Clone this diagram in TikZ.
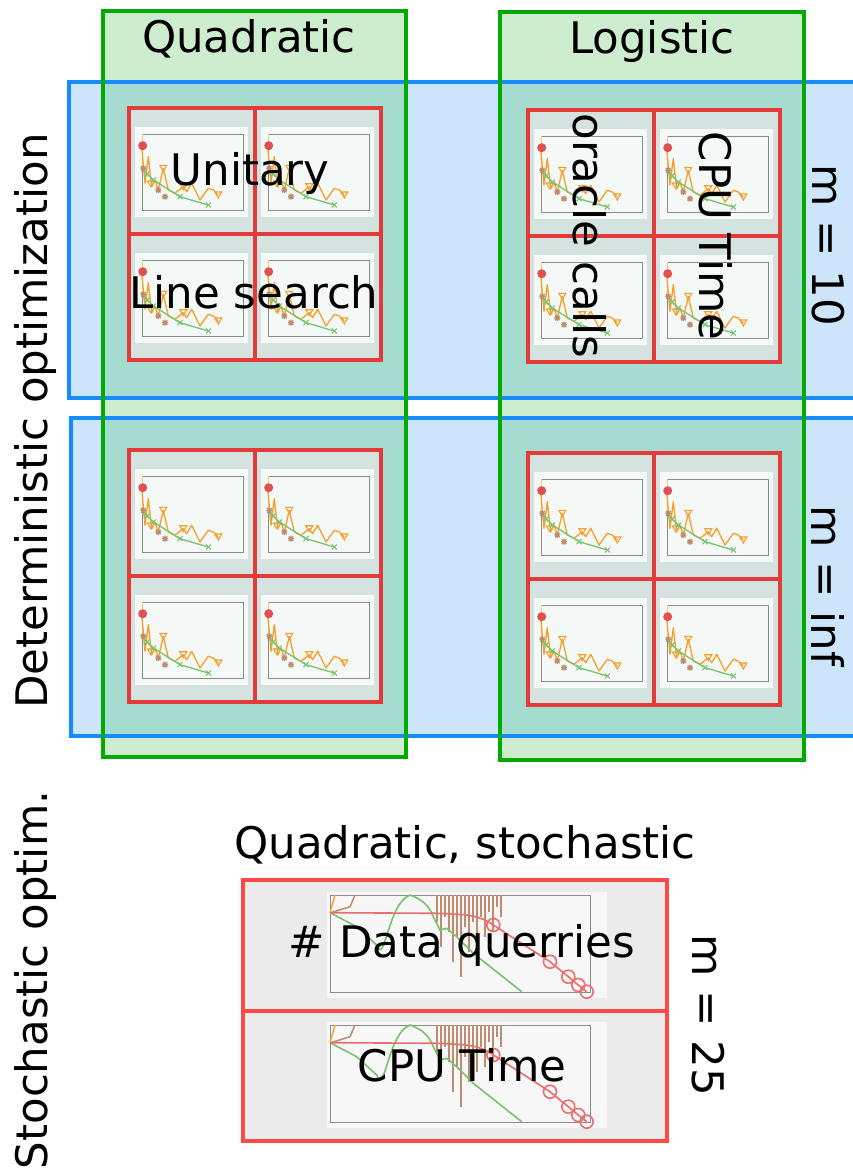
\documentclass[tikz,border=0pt]{standalone}
\usepackage{fontspec}
\setmainfont{DejaVu Sans}
\definecolor{grnline}{RGB}{0,170,0}
\definecolor{grnfill}{RGB}{206,237,207}
\definecolor{blueline}{RGB}{20,140,255}
\definecolor{bluefill}{RGB}{205,229,250}
\definecolor{teal}{RGB}{166,220,207}
\definecolor{redgrid}{RGB}{228,58,58}
\definecolor{redsto}{RGB}{255,72,72}
\definecolor{cellgray}{RGB}{213,227,224}
\definecolor{thumbbg}{RGB}{244,248,247}
\definecolor{axgray}{RGB}{140,140,140}
\definecolor{orgc}{RGB}{245,160,40}
\definecolor{lgrn}{RGB}{120,195,110}
\definecolor{redc}{RGB}{225,80,80}
\definecolor{brn}{RGB}{190,140,110}
\definecolor{yelc}{RGB}{230,210,120}
\definecolor{stogray}{RGB}{235,235,235}
\definecolor{stobg}{RGB}{247,247,247}
\definecolor{redcurve}{RGB}{235,110,110}
\tikzset{
  lbl/.style={font=\fontsize{43.5}{50}\selectfont, inner sep=0pt, text=black},
  greenbox/.style={draw=grnline, line width=3.5pt},
  bluebox/.style={draw=blueline, line width=3.5pt},
  redline/.style={draw=redgrid, line width=3.8pt},
  stoline/.style={draw=redsto, line width=3.5pt},
}
\newcommand\tri[2]{\draw[orgc,line width=1.1pt] (#1,#2) ++(-3.5,-3) -- ++(7,0) -- ++(-3.5,6) -- cycle;}
\newcommand\xmk[2]{\draw[lgrn,line width=1.1pt] (#1,#2) ++(-2.5,-2.5) -- ++(5,5) ++(-5,0) -- ++(5,-5);}
\newcommand\stmk[2]{\draw[brn,line width=1.2pt] (#1,#2) ++(-3,0) -- ++(6,0) ++(-3,-3) -- ++(0,6) ++(-2.3,-0.7) -- ++(4.6,-4.6) ++(0,4.6) -- ++(-4.6,-4.6);}
\newcommand\dthumb[2]{%
\begin{scope}[shift={(#1,#2)}]
\fill[thumbbg] (6,19) rectangle (119,109);
\draw[axgray,line width=0.7pt] (13,26) rectangle (114,102);
\draw[yelc,line width=1pt] (13,26) -- (13,62);
\draw[orgc,line width=1.3pt,line join=round] (12.7,38.7) -- (16,75.3) -- (19.3,48.7) -- (22.7,78.7) -- (26,72) -- (29.3,82) -- (34.3,60.3) -- (39.3,82) -- (46,85.3) -- (54.3,78.7) -- (57.7,83.7) -- (62.7,75.3) -- (71,92) -- (79.3,80.3) -- (84.3,82) -- (89.3,87);
\tri{34.3}{60.3}\tri{54.3}{78.7}\tri{89.3}{87}\tri{22}{76}
\draw[lgrn,line width=1.3pt] (14.3,62) -- (24.3,72) -- (51,88.7) -- (79.3,97);
\xmk{24.3}{72}\xmk{51}{88.7}\xmk{79.3}{97}\xmk{18}{66}
\fill[redc] (13.7,37.7) circle (4.5);
\stmk{14.3}{60.3}\stmk{29.3}{82}\stmk{36}{88.7}
\end{scope}}
\newcommand\sthumb[2]{%
\begin{scope}[shift={(#1,#2)}]
\fill[stobg] (0,0) rectangle (280,106);
\draw[axgray,line width=0.7pt] (3,3) rectangle (263,100);
\draw[orgc,line width=1.4pt] (3,20.7) -- (8,3);
\draw[brn,line width=1.5pt] (3.7,20.7) -- (23,14.7) -- (28,3);
\draw[brn,line width=1.5pt] (110,3) -- (110,30) (114,3) -- (114,55) (118,3) -- (118,25) (122,3) -- (122,40) (126,3) -- (126,70) (130,3) -- (130,45) (134,3) -- (134,85) (138,3) -- (138,35) (142,3) -- (142,60) (146,3) -- (146,30) (150,3) -- (150,50) (154,3) -- (154,25) (158,3) -- (158,45) (162,3) -- (162,20) (166,3) -- (166,40) (170,3) -- (170,15) (174,3) -- (174,25);
\draw[lgrn,line width=1.6pt] (3,20.7) -- (29.7,34.7) -- (49.7,53) to[out=-70,in=200] (83,3) to[out=-20,in=110] (106.3,24.7) -- (113,38) -- (119.7,36.3) -- (129.7,44.7) -- (146.3,61.3) -- (194.7,99.7);
\draw[redcurve,line width=1.6pt] (3,20.7) -- (113,21.3) to[out=-5,in=145] (166.3,33) -- (223,69.7) -- (241.3,84.7) -- (251.3,93) -- (259.7,99.7);
\foreach \cx/\cy in {166.3/33,223/69.7,241.3/84.7,251.3/93,259.7/99.7}
  \draw[redcurve,line width=1.6pt] (\cx,\cy) circle (6.5);
\end{scope}}
\begin{document}
\begin{tikzpicture}[x=1pt,y=-1pt]
\useasboundingbox (0,0) rectangle (853,1173);
\clip (0,0) rectangle (853,1173);
\fill[white] (0,0) rectangle (853,1173);
% fills
\fill[bluefill] (69,82) rectangle (880,398);
\fill[bluefill] (71,418) rectangle (880,736);
\fill[grnfill] (103,11) rectangle (406,757);
\fill[grnfill] (500,12) rectangle (804,760);
\fill[teal] (103,82) rectangle (406,398);
\fill[teal] (103,418) rectangle (406,736);
\fill[teal] (500,82) rectangle (804,398);
\fill[teal] (500,418) rectangle (804,736);
% grids
\foreach \gx/\gy in {129/108,528/110,129/450,528/453}{
  \fill[cellgray] (\gx,\gy) rectangle ++(252,252);
  \dthumb{\gx}{\gy}
  \dthumb{\gx+126}{\gy}
  \dthumb{\gx}{\gy+126}
  \dthumb{\gx+126}{\gy+126}
  \draw[redline] (\gx,\gy) rectangle ++(252,252);
  \draw[redline] (\gx+126,\gy) -- ++(0,252);
  \draw[redline] (\gx,\gy+126) -- ++(252,0);
}
% borders
\draw[bluebox] (69,82) rectangle (880,398);
\draw[bluebox] (71,418) rectangle (880,736);
\draw[greenbox] (103,11) rectangle (406,757);
\draw[greenbox] (500,12) rectangle (804,760);
% stochastic
\fill[stogray] (243,880) rectangle (667,1141);
\sthumb{327}{892}
\sthumb{327}{1022}
\draw[stoline] (243,880) rectangle (667,1141);
\draw[stoline] (243,1011) -- (667,1011);
% labels
\node[lbl,anchor=base] (quad) at (249,52) {Quadratic};
\node[lbl,anchor=base] (logi) at (652,53) {Logistic};
\node[lbl,anchor=base] (unit) at (250,185) {Unitary};
\node[lbl,anchor=base] (lsearch) at (254,308) {Line search};
\node[lbl,rotate=-90] (oracle) at (590,236) {oracle calls};
\node[lbl,rotate=-90] (cpu1) at (716,236) {CPU Time};
\node[lbl,rotate=-90] (m10) at (828,245) {m = 10};
\node[lbl,rotate=-90] (minf) at (828,586) {m = inf};
\node[lbl,rotate=90] (det) at (35,421) {Deterministic optimization};
\node[lbl,rotate=90] (sto) at (35,980) {Stochastic optim.};
\node[lbl,anchor=base] (qs) at (465,858) {Quadratic, stochastic};
\node[lbl,anchor=base] (dq) at (462,957) {\# Data querries};
\node[lbl,anchor=base] (cpu2) at (462,1081) {CPU Time};
\node[lbl,rotate=-90] (m25) at (708,1015) {m = 25};
\end{tikzpicture}
\end{document}
